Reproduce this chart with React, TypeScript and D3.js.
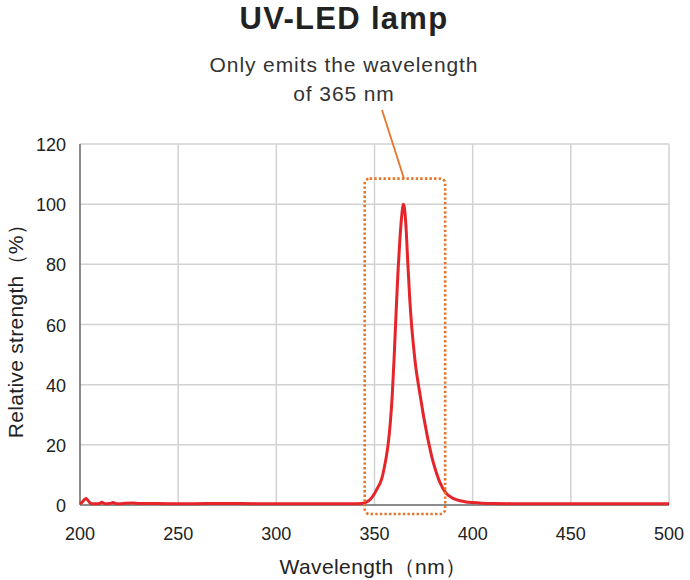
import * as d3 from "d3"

const wavelength = [200, 201, 202, 203, 204, 205, 206, 208, 210, 211, 213, 215, 217, 218, 220, 223, 227, 230, 240, 250, 265, 280, 300, 320, 340, 343, 345, 346, 347, 348, 349, 350, 351, 352, 353, 354, 355, 356, 357, 358, 359, 360, 361, 362, 363, 364, 364.6, 365.2, 366, 367, 368, 369, 370, 371, 372, 373, 374, 375, 376, 377, 378, 379, 380, 381, 382, 383, 384, 385, 387, 389, 392, 396, 400, 405, 410, 420, 440, 460, 480, 500]
const strength = [0.4, 0.9, 1.6, 2.2, 1.6, 0.8, 0.4, 0.4, 0.5, 0.9, 0.4, 0.5, 0.8, 0.5, 0.4, 0.6, 0.7, 0.5, 0.5, 0.4, 0.5, 0.5, 0.4, 0.4, 0.4, 0.5, 0.7, 1, 1.4, 2, 2.8, 3.8, 5, 6.2, 7.5, 9.5, 12.5, 16, 20.5, 27, 36, 49, 64, 78, 89, 97, 100, 99, 93, 80, 68, 59, 52, 46, 41.5, 37.5, 33.5, 29.5, 26, 22.5, 19.5, 16.5, 14, 11.8, 9.8, 8, 6.6, 5.3, 3.6, 2.6, 1.7, 1.1, 0.8, 0.6, 0.5, 0.45, 0.4, 0.4, 0.4, 0.4]
const xTicks = [200, 250, 300, 350, 400, 450, 500]
const yTicks = [0, 20, 40, 60, 80, 100, 120]
const highlightBand = [345, 386]
const highlightRange = [-3, 108.5]

const WIDTH = 690
const HEIGHT = 580
const MARGIN = { left: 80, top: 144, right: 21, bottom: 75 }
const FONT = "'Liberation Sans', Arial, Helvetica, sans-serif"

export default function App() {
  const x = d3.scaleLinear().domain([200, 500]).range([MARGIN.left, WIDTH - MARGIN.right])
  const y = d3.scaleLinear().domain([0, 120]).range([HEIGHT - MARGIN.bottom, MARGIN.top])

  const points: [number, number][] = wavelength.map((w, i) => [w, strength[i]])
  const line = d3.line<[number, number]>()
    .x(d => x(d[0]))
    .y(d => y(d[1]))
    .curve(d3.curveMonotoneX)

  const rx0 = x(highlightBand[0])
  const rx1 = x(highlightBand[1])
  const ry0 = y(highlightRange[1])
  const ry1 = y(highlightRange[0])
  const peakX = x(365)

  return (
    <svg width={WIDTH} height={HEIGHT} style={{ position: "absolute", left: 0, top: 0, background: "#fff" }} fontFamily={FONT}>
      <text x={344} y={29} textAnchor="middle" fontSize={31} fontWeight={700} fill="#222" letterSpacing={1.3}>UV-LED lamp</text>
      <text x={344} y={72} textAnchor="middle" fontSize={21} fill="#333" letterSpacing={0.9}>Only emits the wavelength</text>
      <text x={344} y={101} textAnchor="middle" fontSize={21} fill="#333" letterSpacing={0.9}>of 365 nm</text>

      {/* grid */}
      {xTicks.slice(1).map(t => (
        <line key={"gx" + t} x1={x(t)} x2={x(t)} y1={y(120)} y2={y(0)} stroke="#d2d2d2" strokeWidth={1.5} />
      ))}
      {yTicks.slice(1).map(t => (
        <line key={"gy" + t} x1={x(200)} x2={x(500)} y1={y(t)} y2={y(t)} stroke="#d2d2d2" strokeWidth={1.5} />
      ))}

      {/* axes */}
      <line x1={x(200)} x2={x(200)} y1={y(120)} y2={y(0)} stroke="#666" strokeWidth={1.5} />
      <line x1={x(200)} x2={x(500)} y1={y(0)} y2={y(0)} stroke="#666" strokeWidth={1.5} />

      {yTicks.map(t => (
        <text key={"ty" + t} x={66} y={y(t) + 7} textAnchor="end" fontSize={18} fill="#222">{t}</text>
      ))}
      {xTicks.map(t => (
        <text key={"tx" + t} x={x(t)} y={540} textAnchor="middle" fontSize={18} fill="#222">{t}</text>
      ))}

      <path d={line(points) ?? ""} fill="none" stroke="#e5252a" strokeWidth={3} strokeLinejoin="round" />

      {/* annotation */}
      <rect x={rx0} y={ry0} width={rx1 - rx0} height={ry1 - ry0} rx={5} fill="none"
        stroke="#e8742a" strokeWidth={2.6} strokeDasharray="2.4 2.2" />
      <line x1={382} y1={110} x2={peakX} y2={ry0} stroke="#e8742a" strokeWidth={1.8} />

      <text x={373} y={574} textAnchor="middle" fontSize={21} fill="#222" letterSpacing={0.4}>Wavelength（nm）</text>
      <text transform={`translate(23,${326}) rotate(-90)`} textAnchor="middle" fontSize={21} fill="#222" letterSpacing={0.3}>Relative strength（%）</text>
    </svg>
  )
}
